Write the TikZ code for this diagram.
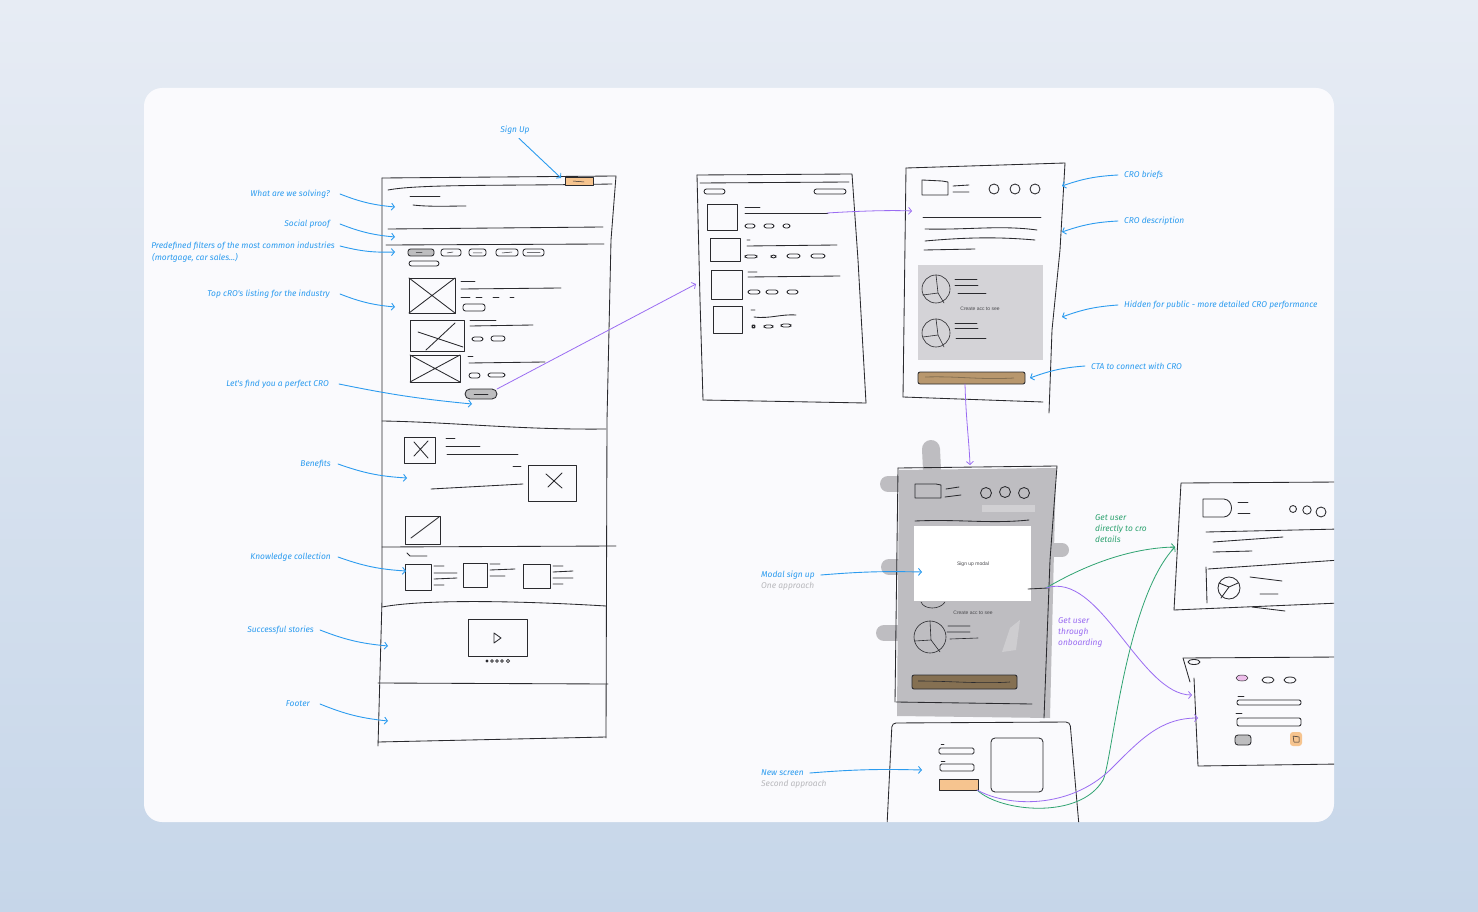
\documentclass[tikz,border=0pt]{standalone}
\usepackage{fontspec}
\setmainfont{Fira Sans}
\newfontfamily\hand{Fira Sans}
\newfontfamily\uif{Liberation Sans}
\usetikzlibrary{arrows.meta}
\definecolor{bgtop}{HTML}{E7ECF4}
\definecolor{bgbot}{HTML}{C6D6E9}
\definecolor{cardc}{HTML}{FAFAFD}
\definecolor{inkc}{HTML}{2A2A2E}
\definecolor{lblue}{HTML}{2B9BEF}
\definecolor{lpurp}{HTML}{9A6CF2}
\definecolor{lgreen}{HTML}{2FA371}
\definecolor{subg}{HTML}{B8B8BC}
\definecolor{orng}{HTML}{F6C48F}
\definecolor{brwn}{HTML}{B8976D}
\definecolor{dbrwn}{HTML}{857052}
\definecolor{mgrey}{HTML}{BEBDC1}
\definecolor{pgrey}{HTML}{D4D3D7}
\definecolor{pillc}{HTML}{BDBDBF}
\definecolor{pinkc}{HTML}{EDBDEA}
\definecolor{smallt}{HTML}{4A4A4E}
\tikzset{
  ink/.style={draw=inkc, line width=0.85pt, line cap=round, line join=round},
  pillbox/.style={ink, rounded corners=2.5pt},
  lbl/.style={text=lblue, font=\hand\itshape\fontsize{8.4}{10}\selectfont, inner sep=0pt},
  subl/.style={text=subg, font=\hand\itshape\fontsize{8.4}{10}\selectfont, inner sep=0pt},
  tiny/.style={text=smallt, font=\uif\fontsize{5}{6}\selectfont, inner sep=0pt},
  ba/.style={draw=lblue, line width=0.9pt, line cap=round, -{Straight Barb[length=3pt,width=7pt]}},
  pa/.style={draw=lpurp, line width=0.8pt, line cap=round, -{Straight Barb[length=3pt,width=7pt]}},
  ga/.style={draw=lgreen, line width=0.8pt, line cap=round, -{Straight Barb[length=3pt,width=7pt]}},
}
\newcommand\xbox[4]{\draw[ink] (#1,#2) rectangle (#3,#4); \draw[ink] (#1,#2) -- (#3,#4) (#1,#4) -- (#3,#2);}
\begin{document}
\begin{tikzpicture}[x=1pt,y=-1pt]
\useasboundingbox (0,0) rectangle (1478,912);
\shade[top color=bgtop,bottom color=bgbot] (0,0) rectangle (1478,912);
\fill[cardc, rounded corners=18pt] (144,88) rectangle (1334,822);
\begin{scope}
\clip[rounded corners=18pt] (144,88) rectangle (1334,822);

% ================= Landing page wireframe =================
\draw[ink] (382,178) -- (616,176) -- (611,240) -- (607,420) -- (606,738);
\draw[ink] (382,178) -- (382,600) -- (378,746);
\draw[ink] (378,742) -- (606,737);
\draw[ink] (388,190) .. controls (420,184) and (500,186) .. (612,184);
\draw[ink, fill=orng] (565,177) rectangle (593,185);
\draw[ink, line width=0.5pt] (573,181) -- (584,182);
\draw[ink] (410,196) -- (440,196);
\draw[ink] (413,205) .. controls (430,207) and (450,206) .. (466,206);
\draw[ink] (388,229) -- (603,227);
\draw[ink] (386,245) -- (604,244);
% filters
\draw[pillbox, fill=pillc] (408,249) rectangle (434,256);
\draw[pillbox] (441,249) rectangle (461,256);
\draw[pillbox] (469,249) rectangle (486,256);
\draw[pillbox] (496,249) rectangle (518,256);
\draw[pillbox] (523,249) rectangle (544,256);
\draw[pillbox] (409,261) rectangle (439,266);
\draw[ink, line width=0.5pt] (416,252.5) -- (422,252.5) (447,253) -- (453,252) (473,253) -- (482,253) (502,253) -- (512,252) (527,252.5) -- (540,252.5);
% listing
\xbox{409}{278}{455}{313}
\draw[ink] (461,281) -- (475,281);
\draw[ink] (461,289) -- (561,288);
\draw[ink] (461,297) -- (470,297) (476,297) -- (482,297) (493,297) -- (499,297) (510,297) -- (514,297);
\draw[pillbox] (463,304) rectangle (485,311);
\draw[ink] (410,320) rectangle (464,351);
\draw[ink] (418,332) -- (463,347) (426,350) -- (455,323);
\draw[ink] (470,320) -- (496,320);
\draw[ink] (470,326) -- (533,325);
\draw[pillbox] (472,337) rectangle (483,341);
\draw[pillbox] (491,336) rectangle (505,341);
\xbox{410}{355}{460}{382}
\draw[ink] (468,356) -- (473,356);
\draw[ink] (469,363) -- (545,362);
\draw[pillbox] (469,373) rectangle (480,378);
\draw[pillbox] (488,373) rectangle (505,377);
\draw[ink, fill=pillc, rounded corners=5pt] (465,389) rectangle (497,399);
\draw[ink, line width=0.5pt] (474,394) -- (488,394);
% section lines
\draw[ink] (382,421) .. controls (450,422) and (520,430) .. (606,429);
\draw[ink] (382,547) -- (616,546);
\draw[ink] (382,607) .. controls (430,598) and (540,602) .. (606,606);
\draw[ink] (378,683) -- (608,684);
% benefits
\draw[ink] (404,437) rectangle (435,463);
\draw[ink] (414,442) -- (428,458) (428,441) -- (414,456);
\draw[ink] (446,438) -- (455,438);
\draw[ink] (446,446) -- (480,446);
\draw[ink] (447,454) -- (518,454);
\draw[ink] (528,465) rectangle (576,501);
\draw[ink] (546,474) -- (562,488) (562,473) -- (548,487);
\draw[ink] (513,466) -- (521,466);
\draw[ink] (431,489) -- (523,484);
\draw[ink] (405,516) rectangle (440,544);
\draw[ink] (411,538) -- (439,517);
% knowledge
\draw[ink] (407,553) -- (410,556) -- (427,556);
\draw[ink] (405,564) rectangle (431,590);
\draw[ink] (434,566) -- (444,566) (434,573) -- (457,573) (434,579) -- (457,578) (434,585) -- (444,585);
\draw[ink] (463,563) rectangle (487,587);
\draw[ink] (490,564) -- (500,564) (490,570) -- (515,569) (490,576) -- (505,576);
\draw[ink] (523,564) rectangle (550,588);
\draw[ink] (553,566) -- (563,566) (553,572) -- (573,571) (553,578) -- (573,578) (553,584) -- (563,584);
% video
\draw[ink] (468,619) rectangle (527,656);
\draw[ink] (494,633) -- (494,643) -- (501,638) -- cycle;
\fill[inkc] (487,661) circle[radius=1.6pt];
\draw[inkc, line width=0.6pt] (492,661) circle[radius=1.4pt] (497,661) circle[radius=1.4pt] (502,661) circle[radius=1.4pt] (508,661) circle[radius=1.6pt];

% landing labels
\node[lbl] (lsign) at (515,130) {Sign Up};
\coordinate (tsign) at (561,178);
\draw[ba] ([shift={(4,4)}]lsign.south) -- (tsign);
\node[lbl, anchor=east] (lsolve) at (330,194) {What are we solving?};
\coordinate (tsolve) at (395,207);
\draw[ba] ([xshift=10pt]lsolve.east) to[bend right=8] (tsolve);
\node[lbl, anchor=east] (lsocial) at (330,224) {Social proof};
\coordinate (tsocial) at (395,237);
\draw[ba] ([xshift=10pt]lsocial.east) to[bend right=8] (tsocial);
\node[lbl, anchor=east] (lfilt) at (335,246) {Predefined filters of the most common industries};
\node[lbl, anchor=west] (lfilt2) at (152,258) {(mortgage, car sales...)};
\coordinate (tfilt) at (395,252);
\draw[ba] ([xshift=5pt]lfilt.east) to[bend right=8] (tfilt);
\node[lbl, anchor=east] (ltop) at (330,294) {Top cRO's listing for the industry};
\coordinate (ttop) at (395,307);
\draw[ba] ([xshift=10pt]ltop.east) to[bend right=8] (ttop);
\node[lbl, anchor=east] (lfind) at (329,384) {Let's find you a perfect CRO};
\coordinate (tfind) at (472,404);
\draw[ba] ([xshift=10pt]lfind.east) to[bend right=3] (tfind);
\node[lbl, anchor=east] (lben) at (331,464) {Benefits};
\coordinate (tben) at (407,478);
\draw[ba] ([xshift=7pt]lben.east) to[bend right=8] (tben);
\node[lbl, anchor=east] (lknow) at (331,557) {Knowledge collection};
\coordinate (tknow) at (406,571);
\draw[ba] ([xshift=7pt]lknow.east) to[bend right=8] (tknow);
\node[lbl, anchor=east] (lsucc) at (314,630) {Successful stories};
\coordinate (tsucc) at (388,646);
\draw[ba] ([xshift=6pt]lsucc.east) to[bend right=8] (tsucc);
\node[lbl, anchor=east] (lfoot) at (310,704) {Footer};
\coordinate (tfoot) at (388,721);
\draw[ba] ([xshift=10pt]lfoot.east) to[bend right=8] (tfoot);

% ================= List page =================
\draw[ink] (697,175) -- (852,174) -- (858,260) -- (866,403);
\draw[ink] (697,175) -- (700,300) -- (703,400);
\draw[ink] (703,400) -- (866,403);
\draw[ink] (700,183) -- (849,182);
\draw[pillbox, rounded corners=2.5pt] (704,189) rectangle (725,194);
\draw[pillbox, rounded corners=2.5pt] (814,189) rectangle (846,194);
\draw[ink] (707,204) rectangle (737,230);
\draw[ink] (710,238) rectangle (740,261);
\draw[ink] (711,270) rectangle (742,299);
\draw[ink] (713,306) rectangle (742,333);
\draw[ink] (745,207) -- (760,207) (745,213) -- (828,213);
\draw[pillbox] (745,224) rectangle (755,228);
\draw[pillbox] (764,224) rectangle (774,228);
\draw[pillbox] (783,224) rectangle (790,228);
\draw[ink] (747,240) -- (750,240) (747,246) -- (837,245);
\draw[pillbox] (745,255) rectangle (757,258);
\draw[pillbox] (771,255) rectangle (776,258);
\draw[pillbox] (787,254) rectangle (800,258);
\draw[pillbox] (811,254) rectangle (825,258);
\draw[ink] (748,272) -- (757,272) (748,277) -- (840,276);
\draw[pillbox] (748,290) rectangle (760,294);
\draw[pillbox] (766,290) rectangle (778,294);
\draw[pillbox] (787,290) rectangle (798,294);
\draw[ink] (751,310) -- (755,310) (754,317) .. controls (770,319) and (780,314) .. (796,315);
\draw[pillbox] (752,325) rectangle (755,328);
\draw[pillbox] (764,325) rectangle (773,328);
\draw[pillbox] (781,324) rectangle (791,327);

% ================= Detail page =================
\draw[ink] (906,168) -- (1065,163) -- (1060,250) -- (1052,330) -- (1049,413);
\draw[ink] (906,168) -- (903,397);
\draw[ink] (903,397) -- (1043,402);
\draw[ink] (922,180) -- (942,181) -- (948,182) -- (948,195) -- (922,195) -- cycle;
\draw[ink] (953,186) -- (969,185) (953,192) -- (969,192);
\draw[ink] (994,189) circle[radius=5pt] (1015,189) circle[radius=5pt] (1035,189) circle[radius=5pt];
\draw[ink] (923,217) -- (1041,217);
\draw[ink] (925,229) .. controls (970,230) and (1000,225) .. (1037,230);
\draw[ink] (925,241) .. controls (970,237) and (1000,237) .. (1035,240);
\draw[ink] (924,250) -- (975,249);
\fill[pgrey] (918,265) rectangle (1043,360);
\draw[ink, line width=0.6pt] (936,289) circle[radius=14pt];
\draw[ink, line width=0.6pt] (936,275) -- (938,293) -- (923,295) (938,293) -- (944,303);
\draw[ink, line width=0.6pt] (955,279) -- (977,279) (955,285) -- (978,285) (958,293) -- (986,293);
\draw[ink, line width=0.6pt] (936,333) circle[radius=14pt];
\draw[ink, line width=0.6pt] (936,319) -- (938,335) -- (923,337) (938,335) -- (944,347);
\draw[ink, line width=0.6pt] (955,323) -- (977,323) (955,328) -- (978,328) (956,338) -- (986,338);
\node[tiny] (cacc1) at (980,309) {Create acc to see};
\draw[ink, fill=brwn, rounded corners=2pt] (918,372) rectangle (1025,384);
\draw[draw=dbrwn, line width=0.8pt] (925,377) .. controls (960,376) and (980,380) .. (1014,378);

\node[lbl, anchor=west] (lbrief) at (1124,175) {CRO briefs};
\coordinate (tbrief) at (1062,186);
\draw[ba] ([xshift=-6pt]lbrief.west) to[bend right=8] (tbrief);
\node[lbl, anchor=west] (ldesc) at (1124,221) {CRO description};
\coordinate (tdesc) at (1062,232);
\draw[ba] ([xshift=-6pt]ldesc.west) to[bend right=8] (tdesc);
\node[lbl, anchor=west] (lhid) at (1124,305) {Hidden for public - more detailed CRO performance};
\coordinate (thid) at (1062,317);
\draw[ba] ([xshift=-6pt]lhid.west) to[bend right=8] (thid);
\node[lbl, anchor=west] (lcta) at (1091,366) {CTA to connect with CRO};
\coordinate (tcta) at (1030,378);
\draw[ba] ([xshift=-6pt]lcta.west) to[bend right=8] (tcta);

% ================= Modal screen =================
\fill[mgrey] (899,470) -- (1056,468) -- (1050,718) -- (897,716) -- cycle;
\draw[mgrey, line width=18pt, line cap=round] (931,449) -- (932,470);
\draw[mgrey, line width=16pt, line cap=round] (888,484) -- (905,484);
\draw[mgrey, line width=16pt, line cap=round] (889,567) -- (905,567);
\draw[mgrey, line width=16pt, line cap=round] (884,633) -- (905,633);
\draw[mgrey, line width=14pt, line cap=round] (1048,550) -- (1062,550);
\fill[white, opacity=0.3] (982,505) rectangle (1035,512);
\fill[white, opacity=0.25] (1010,628) -- (1020,620) -- (1016,650) -- (1002,652) -- cycle;
\draw[ink] (898,468) -- (1057,466) -- (1050,560) -- (1044,718);
\draw[ink] (898,468) -- (895,702);
\draw[ink] (896,702) -- (1032,704);
\draw[ink] (915,484) -- (936,484) -- (941,485) -- (941,498) -- (915,498) -- cycle;
\draw[ink] (946,489) -- (959,487) (945,497) -- (961,495);
\draw[ink] (986,493) circle[radius=5.5pt] (1005,492) circle[radius=5.5pt] (1024,493) circle[radius=5.5pt];
\draw[ink] (915,521) .. controls (960,519) and (990,524) .. (1029,520);
\draw[ink, line width=0.6pt] (921,602) .. controls (924,610) and (940,610) .. (945,602);
\fill[white] (914,526) rectangle (1031,601);
\node[tiny] (msign) at (973,564) {Sign up modal};
\node[tiny] (cacc2) at (973,613) {Create acc to see};
\draw[ink, line width=0.6pt] (930,637) circle[radius=16pt];
\draw[ink, line width=0.6pt] (930,621) -- (931,640) -- (915,641) (931,640) -- (940,652);
\draw[ink, line width=0.6pt] (948,626) -- (970,626) (947,632) -- (970,632) (950,639) -- (978,638);
\draw[ink, fill=dbrwn, rounded corners=2pt] (912,675) rectangle (1017,689);
\draw[draw=inkc, line width=0.6pt] (918,681) .. controls (950,681) and (980,684) .. (1010,682);
\draw[ink] (1028,589) -- (1048,588);

\node[lbl, anchor=west] (lmodal) at (761,575) {Modal sign up};
\node[subl, anchor=west] (lmodal2) at (761,586) {One approach};
\coordinate (tmodal) at (922,572);
\draw[ba] ([xshift=6pt]lmodal.east) to[bend left=3] (tmodal);

% ================= New screen =================
\draw[ink, rounded corners=4pt] (887,826) -- (892,723) -- (1070,722) -- (1079,826);
\draw[ink, line width=0.5pt] (941,744) -- (944,744);
\draw[pillbox, rounded corners=1.5pt] (939,748) rectangle (974,754);
\draw[ink, line width=0.5pt] (941,761) -- (945,761);
\draw[pillbox, rounded corners=1.5pt] (940,764) rectangle (974,771);
\draw[ink, line width=0.6pt, fill=orng] (939,779) rectangle (978,790);
\draw[ink, rounded corners=4pt] (991,738) rectangle (1043,792);
\coordinate (btn) at (977,790);

\node[lbl, anchor=west] (lnew) at (761,773) {New screen};
\node[subl, anchor=west] (lnew2) at (761,784) {Second approach};
\coordinate (tnew) at (922,770);
\draw[ba] ([xshift=6pt]lnew.east) to[bend left=3] (tnew);

% ================= Right screen A =================
\draw[ink] (1340,482) -- (1181,483) -- (1174,610) -- (1340,603);
\draw[ink] (1203,499) -- (1224,499) .. controls (1234,500) and (1234,516) .. (1224,517) -- (1203,517) -- cycle;
\draw[ink] (1238,502) -- (1248,502) (1238,513) -- (1250,513);
\draw[ink] (1293,509) circle[radius=3.5pt] (1307,510) circle[radius=4.2pt] (1321,512) circle[radius=5pt];
\draw[ink] (1206,532) -- (1340,529);
\draw[ink] (1213,542) -- (1283,537) (1213,552) -- (1252,551);
\draw[ink] (1208,569) -- (1340,560);
\draw[ink] (1206,567) -- (1207,603);
\draw[ink] (1229,588) circle[radius=11pt];
\draw[ink] (1219,583) -- (1229,587) -- (1238,583) (1229,587) -- (1221,598);
\draw[ink] (1250,577) -- (1282,581) (1260,594) -- (1278,594) (1252,607) -- (1285,611);
\coordinate (ta) at (1175,547);

% ================= Right screen B =================
\draw[ink] (1340,657) -- (1183,658) -- (1190,682);
\draw[ink] (1194,678) -- (1198,766) -- (1340,764);
\draw[ink] (1194,662) ellipse[x radius=6pt, y radius=2.5pt];
\draw[ink, fill=pinkc, line width=0.5pt] (1242,678) ellipse[x radius=6pt, y radius=3pt];
\draw[ink] (1268,680) ellipse[x radius=6pt, y radius=3pt] (1290,680) ellipse[x radius=6pt, y radius=3pt];
\draw[ink] (1238,696) -- (1244,696);
\draw[pillbox, rounded corners=2pt] (1237,700) rectangle (1301,705);
\draw[ink] (1236,713) -- (1242,713);
\draw[pillbox, rounded corners=2pt] (1237,718) rectangle (1301,726);
\draw[ink, fill=pillc, rounded corners=3pt] (1235,735) rectangle (1251,745);
\fill[orng, rounded corners=3pt] (1290,732) rectangle (1302,746);
\draw[ink, line width=0.5pt] (1293,736) -- (1299,737) -- (1299,742) -- (1294,742) -- cycle;
\coordinate (tb1) at (1192,695);
\coordinate (tb2) at (1198,718);

% ================= Flow connectors =================
\coordinate (cta1) at (497,389);
\coordinate (tlist) at (696,284);
\draw[pa] (cta1) -- (tlist);
\coordinate (lrow) at (827,213);
\coordinate (tdet) at (912,211);
\draw[pa] (lrow) .. controls (860,211) and (890,210) .. (tdet);
\coordinate (dcta) at (965,384);
\coordinate (tmod) at (970,465);
\draw[pa] (dcta) .. controls (966,420) and (969,440) .. (tmod);
\coordinate (mline) at (1046,588);
\draw[ga] (mline) .. controls (1085,565) and (1130,548) .. (ta);
\draw[pa] (mline) .. controls (1100,570) and (1140,695) .. (tb1);
\draw[ga] (btn) .. controls (1000,812) and (1080,820) .. (1103,780) .. controls (1112,763) and (1125,600) .. (ta);
\draw[pa] (btn) .. controls (1010,808) and (1070,808) .. (1110,770) .. controls (1140,740) and (1160,718) .. (tb2);

\node[text=lgreen, font=\hand\itshape\fontsize{8.4}{11}\selectfont, inner sep=0pt, anchor=north west, align=left] (lgr) at (1095,514) {Get user\\directly to cro\\details};
\node[text=lpurp, font=\hand\itshape\fontsize{8.4}{11}\selectfont, inner sep=0pt, anchor=north west, align=left] (lpu) at (1058,617) {Get user\\through\\onboarding};
\end{scope}
\end{tikzpicture}
\end{document}
